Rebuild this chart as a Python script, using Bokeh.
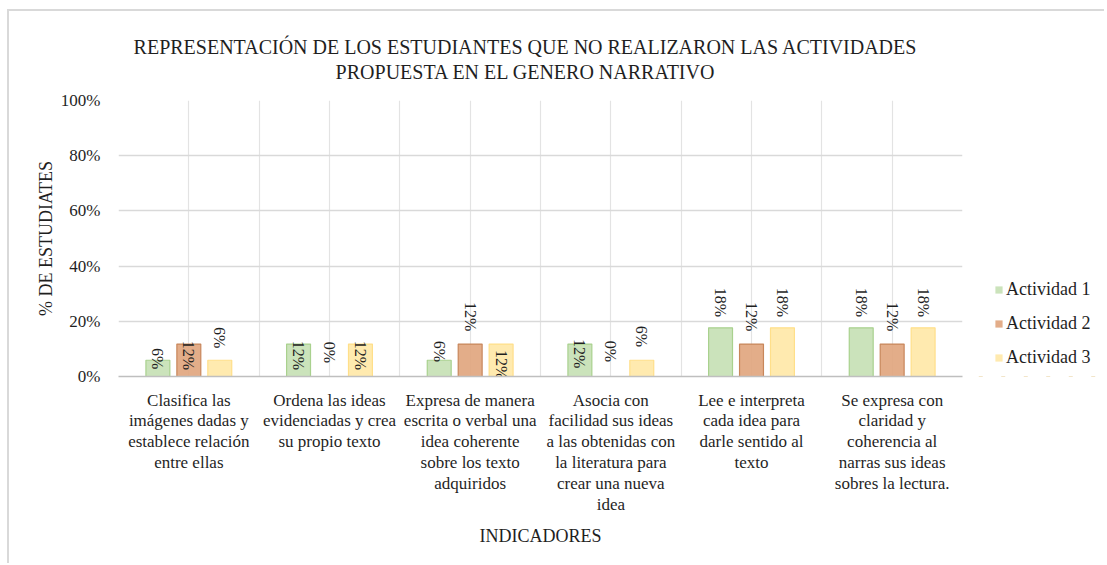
from bokeh.plotting import figure
from bokeh.layouts import row, column
from bokeh.models import (FactorRange, ColumnDataSource, FixedTicker, NumeralTickFormatter,
                          Div, Legend, LegendItem)
from bokeh.transform import dodge
from bokeh.core.properties import value
from bokeh.embed import file_html
from bokeh.resources import INLINE

# ---------------- data ----------------
categories = [
    "Clasifica las\nimágenes dadas y\nestablece relación\nentre ellas",
    "Ordena las ideas\nevidenciadas y crea\nsu propio texto",
    "Expresa de manera\nescrita o verbal una\nidea coherente\nsobre los texto\nadquiridos",
    "Asocia con\nfacilidad sus ideas\na las obtenidas con\nla literatura para\ncrear una nueva\nidea",
    "Lee e interpreta\ncada idea para\ndarle sentido al\ntexto",
    "Se expresa con\nclaridad y\ncoherencia al\nnarras sus ideas\nsobres la lectura.",
]
series_names = ["Actividad 1", "Actividad 2", "Actividad 3"]
actividad_1 = [0.0588, 0.1176, 0.0588, 0.1176, 0.1765, 0.1765]
actividad_2 = [0.1176, 0.0, 0.1176, 0.0, 0.1176, 0.1176]
actividad_3 = [0.0588, 0.1176, 0.1176, 0.0588, 0.1765, 0.1765]
y_ticks = [0, 0.2, 0.4, 0.6, 0.8, 1.0]
title_lines = ["REPRESENTACIÓN DE LOS ESTUDIANTES QUE  NO REALIZARON LAS ACTIVIDADES",
               "PROPUESTA EN EL GENERO NARRATIVO"]
y_title = "% DE ESTUDIATES"
x_title = "INDICADORES"

# label placement (vertical centre of each rotated data label, in axis units)
label_pos_1 = [0.065, 0.076, 0.091, 0.083, 0.268, 0.268]
label_pos_2 = [0.076, 0.087, 0.217, 0.091, 0.217, 0.217]
label_pos_3 = [0.141, 0.076, 0.043, 0.145, 0.268, 0.268]

# ---------------- styles ----------------
FONT = "Liberation Serif"
TXT = "#1f1f1f"
fills = ["#c5e0b4", "#e0a47c", "#ffe8a6"]
borders = ["#a9d18e", "#c8865a", "#ffdf8a"]
offsets = [-0.22, 0.0, 0.22]

src = ColumnDataSource(dict(
    cat=categories,
    a1=actividad_1, a2=actividad_2, a3=actividad_3,
    l1=[f"{round(v*100)}%" for v in actividad_1],
    l2=[f"{round(v*100)}%" for v in actividad_2],
    l3=[f"{round(v*100)}%" for v in actividad_3],
    p1=label_pos_1, p2=label_pos_2, p3=label_pos_3,
))

# ---------------- title ----------------
TITLE_H = 74
title_div = Div(
    text=('<div style="width:1032px;padding-top:24px;text-align:center;'
          'font-family:\'Liberation Serif\';font-size:20px;line-height:25px;color:%s;'
          'white-space:nowrap;">%s<br>%s</div>' % (TXT, title_lines[0], title_lines[1])),
    width=1032, height=TITLE_H, margin=0)

H = 552 - TITLE_H
p = figure(width=960, height=H, x_range=FactorRange(factors=categories, range_padding=0),
           y_range=(0, 1), output_backend="svg", toolbar_location=None,
           min_border_left=109, min_border_right=7, min_border_top=15, min_border_bottom=187)
p.outline_line_color = None

cols = [("a1", "l1", "p1"), ("a2", "l2", "p2"), ("a3", "l3", "p3")]
for i, (col, lab, pos) in enumerate(cols):
    p.vbar(x=dodge("cat", offsets[i], range=p.x_range), top=col, width=0.17, source=src,
           fill_color=fills[i], fill_alpha=0.9, line_color=borders[i], line_width=1.2)
    p.text(x=dodge("cat", offsets[i], range=p.x_range), y=pos, text=lab, source=src,
           angle=-1.5707963, text_align="center", text_baseline="middle",
           text_font=value(FONT), text_font_size="16px", text_color=TXT)

# grids
p.ygrid.ticker = FixedTicker(ticks=y_ticks)
p.ygrid.grid_line_color = "#d9d9d9"
p.ygrid.grid_line_width = 1.5
p.xgrid.ticker = FixedTicker(ticks=[0.5 * k for k in range(1, 13)])
p.xgrid.grid_line_color = "#e3e3e3"
p.xgrid.grid_line_width = 1.2

# y axis
p.yaxis.ticker = FixedTicker(ticks=y_ticks)
p.yaxis.formatter = NumeralTickFormatter(format="0%")
p.yaxis.axis_line_color = None
p.yaxis.major_tick_line_color = None
p.yaxis.minor_tick_line_color = None
p.yaxis.major_label_standoff = 12
p.yaxis.major_label_text_font = FONT
p.yaxis.major_label_text_font_size = "17px"
p.yaxis.major_label_text_color = TXT
p.yaxis.axis_label = y_title
p.yaxis.axis_label_text_font = FONT
p.yaxis.axis_label_text_font_size = "18px"
p.yaxis.axis_label_text_font_style = "normal"
p.yaxis.axis_label_text_color = TXT
p.yaxis.axis_label_standoff = 2

# x axis
p.xaxis.axis_line_color = "#bfbfbf"
p.xaxis.axis_line_width = 1.5
p.xaxis.major_tick_line_color = None
p.xaxis.major_label_standoff = 8
p.xaxis.major_label_text_font = FONT
p.xaxis.major_label_text_font_size = "17px"
p.xaxis.major_label_text_line_height = 1.1
p.xaxis.major_label_text_color = TXT
p.xaxis.axis_label = x_title
p.xaxis.axis_label_text_font = FONT
p.xaxis.axis_label_text_font_size = "18px"
p.xaxis.axis_label_text_font_style = "normal"
p.xaxis.axis_label_text_color = TXT
p.xaxis.axis_label_standoff = 9

# legend panel: companion figure sharing the source; its bars lie far outside its view
q = figure(width=135, height=H, x_range=FactorRange(factors=categories), y_range=(10, 11),
           output_backend="svg", toolbar_location=None, x_axis_location=None,
           y_axis_location=None, min_border=0)
q.outline_line_color = None
q.grid.visible = False
leg_renderers = []
for i, (col, lab, pos) in enumerate(cols):
    leg_renderers.append(q.vbar(x="cat", top=col, width=0.17, source=src,
                                fill_color=fills[i], fill_alpha=0.9, line_color=None))
legend = Legend(items=[LegendItem(label=n, renderers=[r]) for n, r in zip(series_names, leg_renderers)],
                location=(25, 8), orientation="vertical", padding=0, margin=0,
                glyph_width=9, glyph_height=9, label_standoff=3, spacing=13, label_height=20,
                border_line_alpha=0, background_fill_alpha=0,
                label_text_font=FONT, label_text_font_size="18px", label_text_color=TXT)
q.add_layout(legend, "center")

layout = column(title_div, row(p, q),
                styles={"border-left": "2px solid #d9d9d9", "border-top": "2px solid #d9d9d9",
                        "margin-left": "7px", "margin-top": "9px"})

open("out.html", "w").write(file_html(layout, INLINE))
